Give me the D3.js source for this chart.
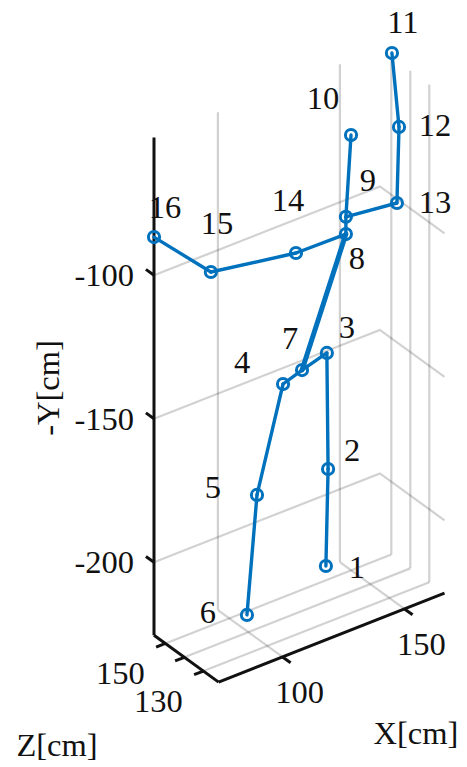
<!DOCTYPE html>
<html>
<head>
<meta charset="utf-8">
<script src="https://cdn.jsdelivr.net/npm/d3@7"></script>
<style>
  html, body { margin: 0; padding: 0; background: #fff; }
  svg { display: block; }
</style>
</head>
<body>
<script>
// Joint numbers and their 3D positions (cm)
const jointIds = [1, 2, 3, 4, 5, 6, 7, 8, 9, 10, 11, 12, 13, 14, 15, 16];
const jointX = [131.8, 132.7, 132.2, 115.8, 102.0, 92.9, 122.8, 140.0, 140.0, 142.1, 154.2, 157.1, 157.8, 124.2, 94.0, 73.8];
const jointY = [-213.0, -179.5, -138.9, -145.2, -177.3, -213.0, -142.2, -100.1, -94.1, -66.3, -38.9, -65.6, -93.3, -104.3, -103.7, -86.7];
const jointZ = [140, 140, 140, 142, 138, 131.6, 141, 140, 140, 140, 134, 134, 136, 146, 152, 156];

// Bones between joints (joint numbers)
const bones = [[1, 2], [2, 3], [3, 7], [7, 4], [4, 5], [5, 6], [7, 8], [8, 9], [9, 10],
               [9, 13], [13, 12], [12, 11], [8, 14], [14, 15], [15, 16]];
const heavyBones = ["7-8"];

// Axis limits and ticks
const xLim = [73.8, 166.4];
const yLim = [-225.4, -52];
const zLim = [122, 156];
const xTicks = [100, 150];
const yTicks = [-200, -150, -100];
const zTicks = [130, 140, 150];
const zTickLabels = ["130", "", "150"];

// Label nudges in pixels for each joint number
const labelNudge = [[31, 1], [24, -19], [20, -26], [-41, -22], [-44, -8], [-39, -3], [-12, -32],
                    [11, 24], [22, -37], [-28, -37], [11, -31], [36, -2], [38, -1], [-8, -53],
                    [6, -49], [11, -30]];

const W = 467, H = 767;
const FONT = "'Liberation Serif', 'Times New Roman', 'DejaVu Serif', serif";
const svg = d3.select("body").append("svg").attr("width", W).attr("height", H);

// Oblique view: each data axis contributes a horizontal and a vertical screen component
const xH = d3.scaleLinear().domain(xLim).range([154, 379.9]);
const xV = d3.scaleLinear().domain(xLim).range([0, -88.9]);
const zH = d3.scaleLinear().domain([zLim[1], zLim[0]]).range([0, 64.6]);
const zV = d3.scaleLinear().domain([zLim[1], zLim[0]]).range([0, 46.9]);
const yV = d3.scaleLinear().domain(yLim).range([635.2, 137.5]);

const P = (x, y, z) => [xH(x) + zH(z), yV(y) + xV(x) + zV(z)];
const line = d3.line();

const [x0, x1] = xLim, [y0, y1] = yLim, [z0, z1] = zLim;

// Grid on the back wall, side wall and floor
const grid = [];
xTicks.forEach(x => { grid.push([P(x, y0, z1), P(x, y1, z1)]); grid.push([P(x, y0, z1), P(x, y0, z0)]); });
yTicks.forEach(y => { grid.push([P(x0, y, z1), P(x1, y, z1), P(x1, y, z0)]); });
zTicks.forEach(z => { grid.push([P(x1, y0, z), P(x1, y1, z)]); grid.push([P(x0, y0, z), P(x1, y0, z)]); });

svg.append("g").selectAll("path").data(grid).join("path")
  .attr("d", d => line(d))
  .attr("fill", "none")
  .attr("stroke", "#262626")
  .attr("stroke-opacity", 0.21)
  .attr("stroke-width", 2.2);

// Axis lines
const axes = svg.append("g").attr("stroke", "#111").attr("stroke-width", 3).attr("fill", "none");
axes.append("path").attr("d", line([P(x0, y1, z1), P(x0, y0, z1)]));
axes.append("path").attr("d", line([P(x0, y0, z1), P(x0, y0, z0)]));
axes.append("path").attr("d", line([P(x0, y0, z0), P(x1, y0, z0)]));

// Tick marks: each points along a neighbouring data axis
const unit = (a, b) => { const dx = b[0] - a[0], dy = b[1] - a[1], l = Math.hypot(dx, dy); return [dx / l, dy / l]; };
const tickLen = 10;
const yDir = unit(P(x0, y0, z0), P(x0, y0, z1));
const xDir = unit(P(x0, y0, z1), P(x0, y0, z0));
const zDir = unit(P(x1, y0, z0), P(x0, y0, z0));
const tickSeg = (p, d) => [p, [p[0] + d[0] * tickLen, p[1] + d[1] * tickLen]];

yTicks.forEach(y => axes.append("path").attr("d", line(tickSeg(P(x0, y, z1), yDir))));
xTicks.forEach(x => axes.append("path").attr("d", line(tickSeg(P(x, y0, z0), xDir))));
zTicks.forEach(z => axes.append("path").attr("d", line(tickSeg(P(x0, y0, z), zDir))));

// Tick labels
const fs = 32.5;
const tl = svg.append("g").attr("font-size", fs).attr("font-family", FONT).attr("fill", "#111");
yTicks.forEach(y => {
  const p = P(x0, y, z1);
  tl.append("text").attr("x", p[0] - 20).attr("y", p[1]).attr("text-anchor", "end")
    .attr("dominant-baseline", "central").text(y);
});
xTicks.forEach(x => {
  const p = P(x, y0, z0);
  tl.append("text").attr("x", p[0] + 17).attr("y", p[1] + 35).attr("text-anchor", "middle")
    .attr("dominant-baseline", "central").text(x);
});
zTicks.forEach((z, i) => {
  const p = P(x0, y0, z);
  tl.append("text").attr("x", p[0] - 45).attr("y", p[1] + 30).attr("text-anchor", "middle")
    .attr("dominant-baseline", "central").text(zTickLabels[i]);
});

// Axis titles
tl.append("text").attr("transform", "translate(48,388) rotate(-90)").attr("text-anchor", "middle")
  .attr("dominant-baseline", "central").text("-Y[cm]");
tl.append("text").attr("x", 416).attr("y", 733).attr("text-anchor", "middle")
  .attr("dominant-baseline", "central").text("X[cm]");
tl.append("text").attr("x", 57).attr("y", 745).attr("text-anchor", "middle")
  .attr("dominant-baseline", "central").text("Z[cm]");

// Skeleton
const pos = {};
jointIds.forEach((id, i) => { pos[id] = P(jointX[i], jointY[i], jointZ[i]); });
const blue = "#0072BD";

svg.append("g").selectAll("path").data(bones).join("path")
  .attr("d", b => line([pos[b[0]], pos[b[1]]]))
  .attr("fill", "none")
  .attr("stroke", blue)
  .attr("stroke-linecap", "round")
  .attr("stroke-width", b => heavyBones.includes(b[0] + "-" + b[1]) ? 5 : 3.4);

svg.append("g").selectAll("circle").data(jointIds).join("circle")
  .attr("cx", id => pos[id][0])
  .attr("cy", id => pos[id][1])
  .attr("r", 5.6)
  .attr("fill", "none")
  .attr("stroke", blue)
  .attr("stroke-width", 3);

// Joint numbers
svg.append("g").attr("font-size", fs).attr("font-family", FONT).attr("fill", "#111")
  .selectAll("text").data(jointIds).join("text")
  .attr("x", (id, i) => pos[id][0] + labelNudge[i][0])
  .attr("y", (id, i) => pos[id][1] + labelNudge[i][1])
  .attr("text-anchor", "middle")
  .attr("dominant-baseline", "central")
  .text(id => id);
</script>
</body>
</html>
